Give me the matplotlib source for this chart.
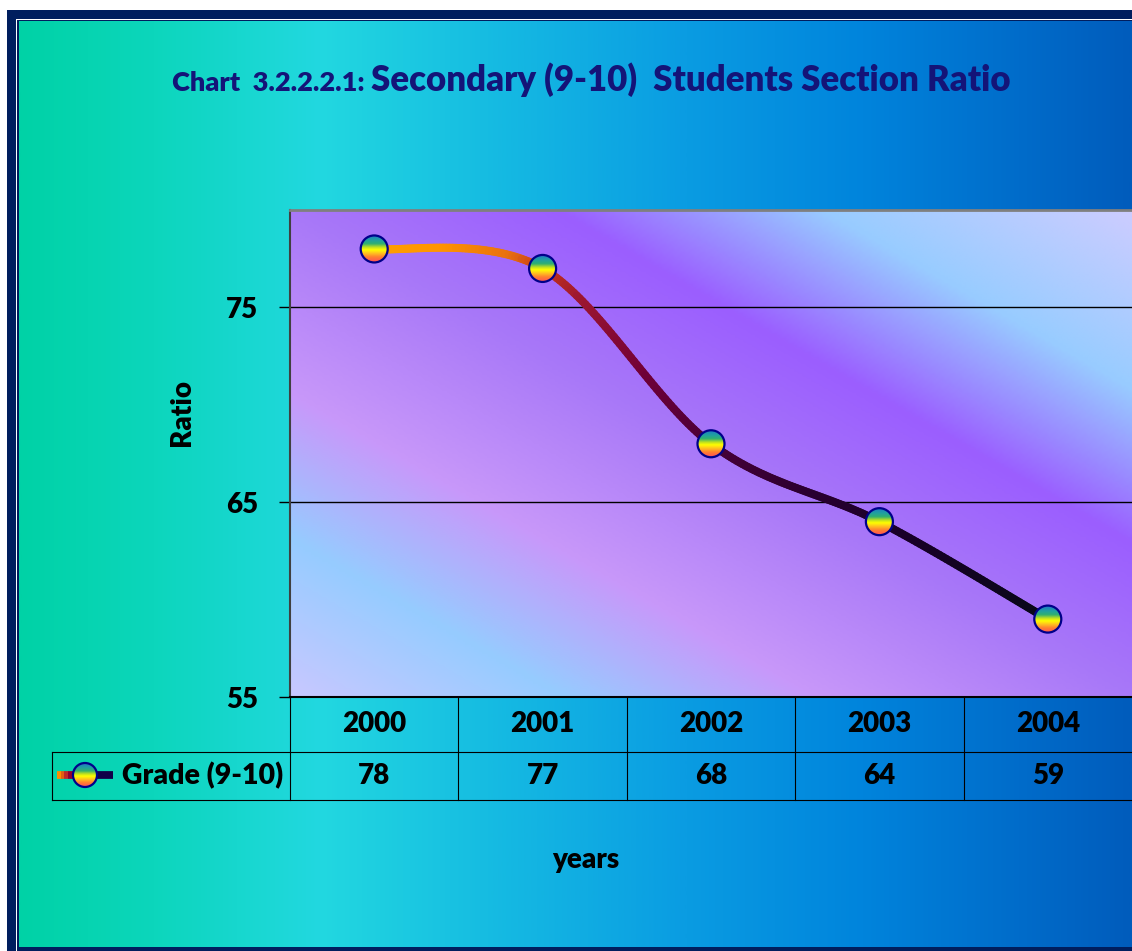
import numpy as np
import matplotlib
matplotlib.use('Agg')
import matplotlib.pyplot as plt
from matplotlib.colors import LinearSegmentedColormap
from matplotlib.patches import Rectangle, Ellipse
from matplotlib.collections import LineCollection

plt.rcParams['font.family'] = ['Lato', 'DejaVu Sans']

# data
years = ['2000', '2001', '2002', '2003', '2004']
ratio = [78, 77, 68, 64, 59]
series_name = 'Grade (9-10)'
yticks = [55, 65, 75]
ylim = (55, 80)

W, H = 1132, 951
NAVY = '#001E5E'
TITLE_C = '#141478'
FS = 20
WT = 'heavy'

fig = plt.figure(figsize=(W / 100, H / 100), dpi=100)
fig.patch.set_facecolor('white')

# colour ramps
bg_cmap = LinearSegmentedColormap.from_list('bg', [
    (0.0, '#00D2A6'), (0.12, '#0CD6BC'), (0.27, '#22D8E0'), (0.42, '#16BCE2'),
    (0.6, '#0A9CE2'), (0.76, '#0084DC'), (0.9, '#006CCA'), (1.0, '#005CBC')])
plot_cmap = LinearSegmentedColormap.from_list('plot', [
    (0.0, '#C8C8FF'), (0.16, '#96CCFF'), (0.31, '#C898FA'), (0.5, '#A878F8'),
    (0.66, '#9B5EFF'), (0.82, '#98CCFF'), (1.0, '#CCCCFF')])
line_cmap = LinearSegmentedColormap.from_list('line', [
    (0.0, '#FFA000'), (0.1, '#FF9400'), (0.2, '#E87010'), (0.25, '#C83818'),
    (0.3, '#A01830'), (0.4, '#700038'), (0.5, '#480038'), (0.65, '#2A0030'),
    (0.8, '#180028'), (1.0, '#080818')])
dot_cmap = LinearSegmentedColormap.from_list('dot', [
    (0.0, '#1E78C8'), (0.18, '#20A0A0'), (0.32, '#30B070'), (0.45, '#C0E020'),
    (0.55, '#FFFF00'), (0.68, '#FFC020'), (0.82, '#FF8030'), (1.0, '#FF5058')])


def rainbow_dot(axis, cx, cy, rx, ry, z):
    if axis.yaxis_inverted():
        ext = (cx - rx, cx + rx, cy + ry, cy - ry)
    else:
        ext = (cx - rx, cx + rx, cy - ry, cy + ry)
    im = axis.imshow(np.linspace(0, 1, 64)[:, None], cmap=dot_cmap, extent=ext,
                     origin='upper', aspect='auto', interpolation='bilinear', zorder=z)
    im.set_clip_path(Ellipse((cx, cy), 2 * rx, 2 * ry, transform=axis.transData))
    axis.add_patch(Ellipse((cx, cy), 2 * rx, 2 * ry, fc='none', ec='#00008A',
                           lw=1.6, zorder=z + 0.1))


def smooth(xs, ys, n=60):
    P = np.column_stack([xs, ys]).astype(float)
    P = np.vstack([P[0], P, P[-1]])
    t = np.linspace(0, 1, n)[:, None]
    h00 = 2 * t**3 - 3 * t**2 + 1
    h10 = t**3 - 2 * t**2 + t
    h01 = -2 * t**3 + 3 * t**2
    h11 = t**3 - t**2
    out = []
    for i in range(1, len(P) - 2):
        m1 = (P[i + 1] - P[i - 1]) / 2
        m2 = (P[i + 2] - P[i]) / 2
        seg = h00 * P[i] + h10 * m1 + h01 * P[i + 1] + h11 * m2
        out.append(seg if i == 1 else seg[1:])
    return np.vstack(out)


# ---- frame and background (pixel coordinates) ----
bg = fig.add_axes([0, 0, 1, 1], zorder=0)
bg.set_xlim(0, W); bg.set_ylim(H, 0); bg.axis('off')
bg.add_patch(Rectangle((7, 10), W, H, color=NAVY, lw=0))
bg.add_patch(Rectangle((16, 19), W, H, color='white', lw=0))
bg.add_patch(Rectangle((17, 20), W, H, color=NAVY, lw=0))
bg.imshow(np.linspace(0, 1, 512)[None, :], cmap=bg_cmap, extent=(19, W, 947, 21),
          aspect='auto', interpolation='bilinear', zorder=1)

bg.text(172, 91, 'Chart  3.2.2.2.1:', fontsize=19.5, fontweight=WT,
        color=TITLE_C, va='baseline', ha='left', zorder=3)
bg.text(371, 91, 'Secondary (9-10)  Students Section Ratio', fontsize=25,
        fontweight=WT, color=TITLE_C, va='baseline', ha='left', zorder=3)
bg.text(182, 413, 'Ratio', rotation=90, fontsize=FS, fontweight=WT,
        ha='center', va='center', zorder=3)
bg.text(586, 860, 'years', fontsize=FS, fontweight=WT,
        ha='center', va='center', zorder=3)

# ---- plot area ----
ax = fig.add_axes([290 / W, 1 - 697 / H, 842 / W, 487 / H], zorder=2)
ax.set_facecolor('none')
xs = np.arange(len(years))
x0, x1 = -0.5, len(years) - 0.5

u, v = np.meshgrid(np.linspace(0, 1, 300), np.linspace(0, 1, 200))
ax.imshow(u + v, cmap=plot_cmap, vmin=0, vmax=2, origin='lower',
          extent=(x0, x1, ylim[0], ylim[1]), aspect='auto',
          interpolation='bilinear', zorder=0)

curve = smooth(xs, ratio)
segs = np.stack([curve[:-1], curve[1:]], axis=1)
lc = LineCollection(segs, colors=line_cmap(curve[:-1, 0] / (len(years) - 1)),
                    linewidths=5.8, capstyle='round', joinstyle='round', zorder=3)
ax.add_collection(lc)

ax.set_xlim(x0, x1)
ax.set_ylim(*ylim)
bb = ax.get_window_extent()
rx = 13.5 * (x1 - x0) / bb.width
ry = 13.5 * (ylim[1] - ylim[0]) / bb.height
for xi, yi in zip(xs, ratio):
    rainbow_dot(ax, xi, yi, rx, ry, 4)
ax.set_xlim(x0, x1)
ax.set_ylim(*ylim)

ax.set_yticks(yticks)
ax.set_xticks([])
ax.yaxis.grid(True, color='black', lw=1)
ax.tick_params(axis='y', direction='out', length=8, width=1, pad=15,
               labelsize=FS, color='black')
for t in ax.get_yticklabels():
    t.set_fontweight(WT)
ax.spines['right'].set_visible(False)
ax.spines['left'].set(color='#404040', lw=1.5)
ax.spines['top'].set(color='#7F7F7F', lw=2)
ax.spines['bottom'].set(color='black', lw=1.5)

# ---- data table ----
tab = fig.add_axes([290 / W, 1 - 800 / H, 842 / W, 103 / H], zorder=1)
tab.set_xlim(x0, x1); tab.set_ylim(0, 103); tab.axis('off')
xl = x0 - (290 - 52) * (x1 - x0) / 842
kw = dict(color='black', lw=0.8, clip_on=False)
tab.plot([xl, x1], [48, 48], **kw)
tab.plot([xl, x1], [0, 0], **kw)
tab.plot([xl, xl], [0, 48], **kw)
for b in np.arange(x0, x1, 1.0):
    tab.plot([b, b], [0, 103], **kw)
for xi, yr, val in zip(xs, years, ratio):
    tab.text(xi, 75.5, yr, ha='center', va='center', fontsize=FS, fontweight=WT)
    tab.text(xi, 24, str(val), ha='center', va='center', fontsize=FS, fontweight=WT)

# legend key inside the table
key = LineCollection([[(57, 775), (61, 775)], [(61, 775), (64, 775)],
                      [(64, 775), (68, 775)], [(68, 775), (74, 775)],
                      [(96, 775), (113, 775)]],
                     colors=['#FF8C00', '#E06010', '#C02828', '#900030', '#100048'],
                     linewidths=5.6, capstyle='butt', zorder=3)
bg.add_collection(key)
rainbow_dot(bg, 85, 775, 12, 12, 4)
bg.text(283, 776, series_name, ha='right', va='center', fontsize=20.5,
        fontweight=WT, zorder=3)
bg.set_xlim(0, W); bg.set_ylim(H, 0)

fig.savefig('out.png', dpi=100)
